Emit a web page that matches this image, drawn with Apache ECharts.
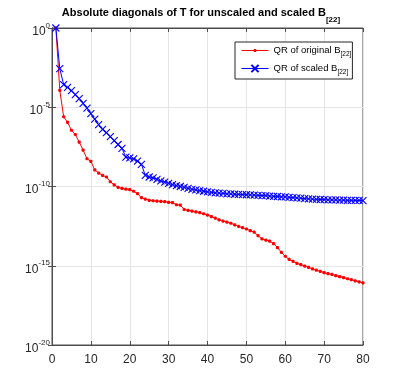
<!DOCTYPE html>
<html>
<head>
<meta charset="utf-8">
<script src="https://cdn.jsdelivr.net/npm/echarts@6/dist/echarts.min.js"></script>
<style>
  html, body { margin: 0; padding: 0; background: #fff; }
  #chart { width: 402px; height: 388px; }
</style>
</head>
<body>
<div id="chart"></div>
<script>
// column index k = 1..80
const colIndex = [
  1, 2, 3, 4, 5, 6, 7, 8, 9, 10, 11, 12, 13, 14, 15, 16, 17, 18, 19, 20,
  21, 22, 23, 24, 25, 26, 27, 28, 29, 30, 31, 32, 33, 34, 35, 36, 37, 38, 39, 40,
  41, 42, 43, 44, 45, 46, 47, 48, 49, 50, 51, 52, 53, 54, 55, 56, 57, 58, 59, 60,
  61, 62, 63, 64, 65, 66, 67, 68, 69, 70, 71, 72, 73, 74, 75, 76, 77, 78, 79, 80
]

// |diag(T)|, QR of original B[22]
const originalDiag = [
  1, 1.17e-4, 2.51e-6, 1.12e-6, 3.55e-7, 1.91e-7, 6.31e-8, 2.0e-8, 5.62e-9, 3.80e-9,
  1.12e-9, 7.08e-10, 5.01e-10, 3.98e-10, 2.0e-10, 1.26e-10, 8.91e-11, 7.59e-11, 6.76e-11, 6.31e-11,
  5.01e-11, 3.55e-11, 2.0e-11, 1.58e-11, 1.35e-11, 1.26e-11, 1.20e-11, 1.15e-11, 1.12e-11, 1.0e-11,
  9.55e-12, 7.08e-12, 6.76e-12, 3.55e-12, 3.16e-12, 2.82e-12, 2.51e-12, 2.24e-12, 1.91e-12, 1.58e-12,
  1.26e-12, 1.0e-12, 7.94e-13, 6.61e-13, 5.62e-13, 4.79e-13, 3.80e-13, 3.02e-13, 2.51e-13, 2.09e-13,
  1.66e-13, 1.32e-13, 7.94e-14, 5.01e-14, 4.17e-14, 3.55e-14, 2.51e-14, 1.41e-14, 7.08e-15, 3.98e-15,
  2.51e-15, 1.91e-15, 1.41e-15, 1.17e-15, 9.55e-16, 7.94e-16, 6.31e-16, 5.25e-16, 4.47e-16, 3.72e-16,
  3.16e-16, 2.82e-16, 2.40e-16, 2.09e-16, 1.78e-16, 1.51e-16, 1.32e-16, 1.12e-16, 9.55e-17, 8.32e-17
]

// |diag(T)|, QR of scaled B[22]
const scaledDiag = [
  1, 2.75e-3, 2.69e-4, 1.78e-4, 1.12e-4, 6.31e-5, 3.55e-5, 1.78e-5, 8.91e-6, 3.98e-6,
  1.78e-6, 7.94e-7, 3.98e-7, 2.51e-7, 1.41e-7, 7.94e-8, 4.47e-8, 2.51e-8, 7.08e-9, 6.31e-9,
  5.62e-9, 3.98e-9, 2.51e-9, 5.01e-10, 3.98e-10, 3.55e-10, 2.82e-10, 2.24e-10, 1.91e-10, 1.58e-10,
  1.32e-10, 1.12e-10, 1.0e-10, 8.71e-11, 7.59e-11, 6.61e-11, 6.03e-11, 5.50e-11, 5.01e-11, 4.57e-11,
  4.27e-11, 3.98e-11, 3.80e-11, 3.63e-11, 3.47e-11, 3.39e-11, 3.24e-11, 3.16e-11, 3.09e-11, 3.02e-11,
  2.95e-11, 2.82e-11, 2.75e-11, 2.69e-11, 2.63e-11, 2.51e-11, 2.40e-11, 2.34e-11, 2.24e-11, 2.19e-11,
  2.09e-11, 2.0e-11, 1.91e-11, 1.82e-11, 1.74e-11, 1.66e-11, 1.58e-11, 1.55e-11, 1.51e-11, 1.48e-11,
  1.45e-11, 1.41e-11, 1.41e-11, 1.38e-11, 1.38e-11, 1.35e-11, 1.35e-11, 1.32e-11, 1.32e-11, 1.29e-11
]

const xTicks = [0, 10, 20, 30, 40, 50, 60, 70, 80]
const yTickExps = [0, -5, -10, -15, -20]

const FONT = "'Liberation Sans', Arial, sans-serif"
const AXIS_COLOR = '#4d4d4d'
const TEXT_COLOR = '#262626'
const RED = '#ff0000'
const BLUE = '#0000ff'
// small dot for the '.' marker (corner points only set the box, so the dot stays small)
const DOT = 'path://M0,0L0,0M10,10L10,10M3,4L4,3L6,3L7,4L7,6L6,7L4,7L3,6Z'
const CROSS = 'path://M0,0L10,10M10,0L0,10'

const chart = echarts.init(document.getElementById('chart'), null, { renderer: 'canvas' })

const pairs = (ys) => colIndex.map((x, i) => [x, ys[i]])

const option = {
  animation: false,
  backgroundColor: '#fff',
  title: {
    text: '{t|Absolute diagonals of T for unscaled and scaled B}{s|[22]}',
    left: 'center',
    top: 3,
    padding: [4, 0, 0, 12],
    textStyle: {
      rich: {
        t: { fontFamily: FONT, fontSize: 11, fontWeight: 'bold', color: '#000', verticalAlign: 'top', lineHeight: 12 },
        s: { fontFamily: FONT, fontSize: 8, fontWeight: 'bold', color: '#000', verticalAlign: 'top', padding: [9, 0, 0, 0], lineHeight: 9 }
      }
    }
  },
  legend: {
    left: 235,
    top: 42,
    orient: 'vertical',
    itemWidth: 27,
    itemHeight: 9,
    itemGap: 5,
    padding: [3, 1, 3, 6],
    borderColor: '#262626',
    borderWidth: 1,
    backgroundColor: '#fff',
    formatter: (name) => name === 'orig'
      ? '{n|QR of original B}{s|[22]}'
      : '{n|QR of scaled B}{s|[22]}',
    textStyle: {
      rich: {
        n: { fontFamily: FONT, fontSize: 9.5, color: '#000', verticalAlign: 'top', lineHeight: 11 },
        s: { fontFamily: FONT, fontSize: 6.5, color: '#000', verticalAlign: 'top', padding: [6, 0, 0, 0], lineHeight: 8 }
      }
    },
    data: [
      { name: 'orig', lineStyle: { color: RED, width: 1 } },
      { name: 'scaled', lineStyle: { color: BLUE, width: 1 } }
    ]
  },
  grid: {
    left: 52,
    right: 39,
    top: 28,
    bottom: 43,
    show: true,
    borderColor: AXIS_COLOR,
    borderWidth: 1
  },
  xAxis: [
    {
      type: 'value',
      min: 0,
      max: 80,
      interval: 10,
      axisLine: { lineStyle: { color: AXIS_COLOR } },
      axisTick: { inside: true, length: 4, lineStyle: { color: AXIS_COLOR } },
      axisLabel: {
        margin: 9,
        fontFamily: FONT,
        fontSize: 12,
        color: TEXT_COLOR,
        customValues: xTicks
      },
      splitLine: { show: true, lineStyle: { color: '#e5e5e5', width: 1 } }
    },
    {
      type: 'value',
      position: 'top',
      min: 0,
      max: 80,
      interval: 10,
      axisLine: { show: true, lineStyle: { color: AXIS_COLOR } },
      axisTick: { inside: true, length: 4, lineStyle: { color: AXIS_COLOR } },
      axisLabel: { show: false },
      splitLine: { show: false }
    }
  ],
  yAxis: [
    {
      // base 1e5 puts one tick every five decades, like the original
      type: 'log',
      logBase: 1e5,
      min: 1e-20,
      max: 1,
      splitNumber: 4,
      axisLine: { show: true, lineStyle: { color: AXIS_COLOR } },
      axisTick: { show: true, inside: true, length: 4, lineStyle: { color: AXIS_COLOR } },
      minorTick: { show: false },
      axisLabel: {
        margin: 2,
        formatter: (v) => {
          const e = Math.round(Math.log10(v))
          if (yTickExps.indexOf(e) < 0) return ''
          return '{b|10}{s|' + e + '}'
        },
        rich: {
          b: { fontFamily: FONT, fontSize: 12, color: TEXT_COLOR, verticalAlign: 'top', padding: [4, 0, 0, 0], lineHeight: 13 },
          s: { fontFamily: FONT, fontSize: 8, color: TEXT_COLOR, verticalAlign: 'top', lineHeight: 9 }
        }
      },
      splitLine: { show: true, lineStyle: { color: '#e5e5e5', width: 1 } }
    },
    {
      type: 'log',
      logBase: 1e5,
      position: 'right',
      min: 1e-20,
      max: 1,
      splitNumber: 4,
      axisLine: { show: true, lineStyle: { color: AXIS_COLOR } },
      axisTick: { show: true, inside: true, length: 4, lineStyle: { color: AXIS_COLOR } },
      axisLabel: { show: false },
      splitLine: { show: false }
    }
  ],
  series: [
    {
      name: 'orig',
      type: 'line',
      data: pairs(originalDiag),
      symbol: DOT,
      symbolSize: 8,
      showAllSymbol: true,
      lineStyle: { color: RED, width: 1 },
      itemStyle: { color: RED, borderWidth: 0 },
      z: 3
    },
    {
      name: 'scaled',
      type: 'line',
      data: pairs(scaledDiag),
      symbol: CROSS,
      symbolSize: 7,
      showAllSymbol: true,
      lineStyle: { color: BLUE, width: 1 },
      itemStyle: { color: BLUE, borderColor: BLUE, borderWidth: 1.1 },
      z: 4
    }
  ]
}

chart.setOption(option)
</script>
</body>
</html>
